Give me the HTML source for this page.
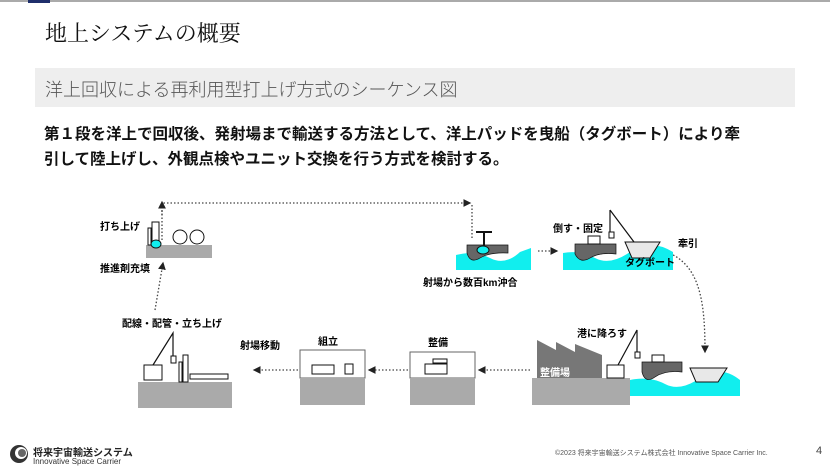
<!DOCTYPE html>
<html><head><meta charset="utf-8"><style>
*{margin:0;padding:0}
body{width:830px;height:474px;background:#fff;position:relative;overflow:hidden;font-family:"Liberation Sans","Noto Sans CJK JP",sans-serif}
.a{position:absolute;white-space:nowrap}
</style></head><body>
<div class="a" style="left:0;top:0;width:830px;height:2px;background:#aaa"></div>
<div class="a" style="left:28px;top:0;width:22px;height:3px;background:#1f2f6b"></div>
<div class="a" style="left:45px;top:17px;font-size:22px;font-family:'Noto Serif CJK JP',serif;color:#111">地上システムの概要</div>
<div class="a" style="left:35px;top:68px;width:760px;height:39px;background:#eee"></div>
<div class="a" style="left:45px;top:76px;font-size:18px;color:#555;font-weight:300">洋上回収による再利用型打上げ方式のシーケンス図</div>
<div class="a" style="left:44px;top:122px;font-size:15.5px;color:#111;line-height:25px;font-weight:bold">第１段を洋上で回収後、発射場まで輸送する方法として、洋上パッドを曳船（タグボート）により牽<br>引して陸上げし、外観点検やユニット交換を行う方式を検討する。</div>
<svg class="a" style="left:0;top:0" width="830" height="474" font-family="Liberation Sans,Noto Sans CJK JP,sans-serif" font-size="10" font-weight="bold">
<defs><marker id="m" markerWidth="6" markerHeight="6" refX="5" refY="3" orient="auto"><path d="M0,0L6,3L0,6z" fill="#222"/></marker></defs>
<g stroke="#444" stroke-width="1.3" stroke-dasharray="1.5,2" fill="none">
<path d="M162,240V203H470" marker-end="url(#m)"/>
<path d="M162,203" /><path d="M162,215V202" marker-end="url(#m)"/>
<path d="M472,205V240"/>
<path d="M538,251H557" marker-end="url(#m)"/>
<path d="M660,250C700,260 705,300 705,352" marker-end="url(#m)"/>
<path d="M530,370H479" marker-end="url(#m)"/>
<path d="M408,370H369" marker-end="url(#m)"/>
<path d="M298,370H254" marker-end="url(#m)"/>
<path d="M155,310L163,263" marker-end="url(#m)"/>
</g>
<!-- launch pad -->
<rect x="146" y="245" width="66" height="13" fill="#aaa"/>
<rect x="152" y="222" width="7" height="23" fill="#fff" stroke="#111"/>
<rect x="148" y="228" width="3" height="17" fill="#fff" stroke="#111"/>
<ellipse cx="156" cy="244" rx="5" ry="4" fill="#1ee" stroke="#111"/>
<circle cx="180" cy="237" r="7" fill="#fff" stroke="#111"/><circle cx="197" cy="237" r="7" fill="#fff" stroke="#111"/>
<text x="100" y="230">打ち上げ</text><text x="100" y="272">推進剤充填</text>
<!-- sea 1 -->
<path d="M456,255Q475,250 490,258T520,252L531,248V270H456Z" fill="#1ee"/>
<path d="M467,245H508V253Q490,252 480,258T467,253Z" fill="#666" stroke="#111" stroke-width=".7"/>
<ellipse cx="483" cy="250" rx="6" ry="4" fill="#1ee" stroke="#111"/>
<path d="M476,232H492M484,232V246" stroke="#111" stroke-width="2"/>
<text x="423" y="286">射場から数百km沖合</text>
<!-- sea 2 -->
<path d="M563,253Q580,250 595,258T630,252T673,252V270H563Z" fill="#1ee"/>
<path d="M575,244H616V254Q600,252 590,258T575,254Z" fill="#666" stroke="#111" stroke-width=".7"/>
<rect x="588" y="236" width="12" height="8" fill="#fff" stroke="#111"/>
<path d="M625,242H660L650,258H632Z" fill="#e8e8e8" stroke="#111"/>
<path d="M610,210L634,242M610,210V232" stroke="#111" stroke-width="1.2" fill="none"/>
<rect x="609" y="232" width="5" height="6" fill="#fff" stroke="#111"/>
<text x="553" y="232">倒す・固定</text><text x="678" y="247">牽引</text><text x="625" y="266">タグボート</text>
<!-- bottom right sea -->
<path d="M630,380Q650,376 665,384T700,378T740,380V396H630Z" fill="#1ee"/>
<path d="M642,362H682V372Q665,370 655,377T642,372Z" fill="#666" stroke="#111" stroke-width=".7"/>
<rect x="652" y="355" width="12" height="7" fill="#fff" stroke="#111"/>
<path d="M690,368H727L718,382H696Z" fill="#e8e8e8" stroke="#111"/>
<!-- port -->
<rect x="532" y="378" width="98" height="27" fill="#aaa"/>
<path d="M537,378V340L556,350V342L575,352V344L602,355V378Z" fill="#777"/>
<text x="540" y="376" fill="#fff">整備場</text>
<rect x="607" y="365" width="17" height="13" fill="#fff" stroke="#111"/>
<path d="M618,365L637,330V352" stroke="#111" stroke-width="1.2" fill="none"/>
<rect x="635" y="352" width="5" height="6" fill="#fff" stroke="#111"/>
<text x="577" y="337">港に降ろす</text>
<!-- 整備 -->
<rect x="410" y="352" width="65" height="26" fill="#fff" stroke="#666"/>
<rect x="410" y="378" width="65" height="27" fill="#aaa"/>
<rect x="425" y="364" width="22" height="10" fill="#fff" stroke="#111"/>
<rect x="433" y="359" width="14" height="4" fill="#fff" stroke="#111"/>
<text x="428" y="346">整備</text>
<!-- 組立 -->
<rect x="300" y="350" width="65" height="28" fill="#fff" stroke="#666"/>
<rect x="300" y="378" width="65" height="27" fill="#aaa"/>
<rect x="312" y="365" width="22" height="9" fill="#fff" stroke="#111"/>
<rect x="345" y="364" width="8" height="10" fill="#fff" stroke="#111"/>
<text x="318" y="345">組立</text>
<text x="240" y="349">射場移動</text>
<!-- launch site -->
<rect x="138" y="382" width="94" height="26" fill="#aaa"/>
<rect x="144" y="365" width="18" height="15" fill="#fff" stroke="#111"/>
<path d="M153,365L173,333V356" stroke="#111" stroke-width="1.2" fill="none"/>
<rect x="171" y="356" width="5" height="7" fill="#fff" stroke="#111"/>
<rect x="183" y="355" width="5" height="27" fill="#fff" stroke="#111"/>
<rect x="179" y="362" width="3" height="20" fill="#fff" stroke="#111"/>
<rect x="190" y="374" width="38" height="5" fill="#fff" stroke="#111"/>
<text x="122" y="327">配線・配管・立ち上げ</text>
</svg>
<svg class="a" style="left:8px;top:443px" width="22" height="22"><circle cx="11" cy="11" r="9" fill="#333"/><circle cx="13" cy="10" r="6" fill="#fff"/><circle cx="14" cy="10" r="4" fill="#666"/></svg>
<div class="a" style="left:33px;top:444px;font-size:10px;font-weight:bold;color:#222">将来宇宙輸送システム</div>
<div class="a" style="left:33px;top:457px;font-size:8px;color:#333">Innovative Space Carrier</div>
<div class="a" style="left:555px;top:448px;font-size:7px;color:#555">©2023 将来宇宙輸送システム株式会社 Innovative Space Carrier Inc.</div>
<div class="a" style="left:816px;top:445px;font-size:11px;color:#444">4</div>
</body></html>
